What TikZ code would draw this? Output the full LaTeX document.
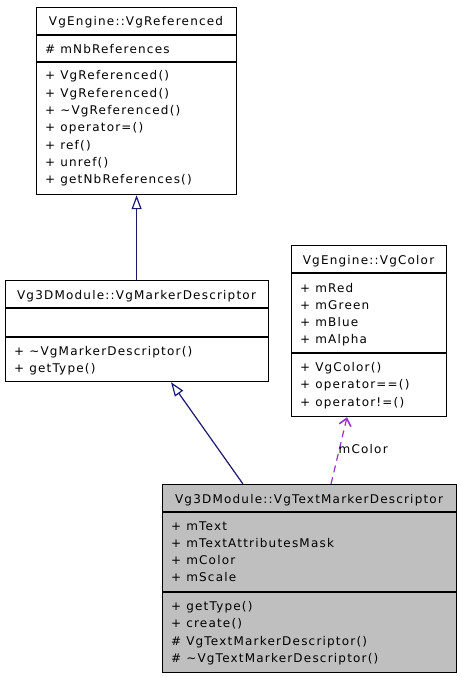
\documentclass[tikz,border=0pt]{standalone}
\usepackage{fontspec}
\setmainfont{DejaVu Sans}[LetterSpace=10]
\usetikzlibrary{arrows.meta}
\definecolor{edgeblue}{HTML}{191970}
\definecolor{edgepurple}{HTML}{9A32CD}
\definecolor{boxgray}{HTML}{BFBFBF}
\begin{document}
\begin{tikzpicture}[x=1pt,y=-1pt,
  box/.style={draw=black, line width=1.2pt, rectangle, inner sep=0pt, anchor=north west},
  sep/.style={draw=black, line width=1.2pt},
  ttl/.style={anchor=base, inner sep=0pt, font=\fontsize{12}{14}\selectfont},
  mem/.style={anchor=base west, inner sep=0pt, font=\fontsize{12}{14}\selectfont},
  inh/.style={draw=edgeblue, line width=1.2pt, -{Triangle[open, length=14pt, width=10pt]}},
  assoc/.style={draw=edgepurple, line width=1.2pt, dash pattern=on 7pt off 5pt, -{Straight Barb[length=7pt, width=12pt, line width=1.6pt]}},
  lbl/.style={anchor=base west, inner sep=0pt, font=\fontsize{12}{14}\selectfont}
]
\useasboundingbox (0,0) rectangle (461,677);

% VgEngine::VgReferenced
\node[box, minimum width=200pt, minimum height=187pt] (ref) at (36,7) {};
\draw[sep] (36,35) -- (236,35);
\draw[sep] (36,62) -- (236,62);
\node[ttl] (refT) at (136,26) {VgEngine::VgReferenced};
\node[mem] (refA1) at (45,53) {\# mNbReferences};
\node[mem] (refM1) at (45,80) {+ VgReferenced()};
\node[mem] (refM2) at (45,97.3) {+ VgReferenced()};
\node[mem] (refM3) at (45,114.6) {+ \textasciitilde VgReferenced()};
\node[mem] (refM4) at (45,131.9) {+ operator=()};
\node[mem] (refM5) at (45,149.2) {+ ref()};
\node[mem] (refM6) at (45,166.5) {+ unref()};
\node[mem] (refM7) at (45,183.8) {+ getNbReferences()};

% Vg3DModule::VgMarkerDescriptor
\node[box, minimum width=263pt, minimum height=101pt] (mk) at (5,280) {};
\draw[sep] (5,308) -- (268,308);
\draw[sep] (5,337) -- (268,337);
\node[ttl] (mkT) at (136.5,299) {Vg3DModule::VgMarkerDescriptor};
\node[mem] (mkM1) at (14,355) {+ \textasciitilde VgMarkerDescriptor()};
\node[mem] (mkM2) at (14,372.3) {+ getType()};

% VgEngine::VgColor
\node[box, minimum width=155pt, minimum height=171pt] (col) at (291,245) {};
\draw[sep] (291,273) -- (446,273);
\draw[sep] (291,353) -- (446,353);
\node[ttl] (colT) at (368.5,264) {VgEngine::VgColor};
\node[mem] (colA1) at (300,292) {+ mRed};
\node[mem] (colA2) at (300,309.3) {+ mGreen};
\node[mem] (colA3) at (300,326.6) {+ mBlue};
\node[mem] (colA4) at (300,343.9) {+ mAlpha};
\node[mem] (colM1) at (300,371.5) {+ VgColor()};
\node[mem] (colM2) at (300,388.8) {+ operator==()};
\node[mem] (colM3) at (300,406.1) {+ operator!=()};

% Vg3DModule::VgTextMarkerDescriptor
\node[box, fill=boxgray, minimum width=294pt, minimum height=188pt] (tm) at (162,484) {};
\draw[sep] (162,512) -- (456,512);
\draw[sep] (162,592) -- (456,592);
\node[ttl] (tmT) at (309,503) {Vg3DModule::VgTextMarkerDescriptor};
\node[mem] (tmA1) at (171,530) {+ mText};
\node[mem] (tmA2) at (171,547.3) {+ mTextAttributesMask};
\node[mem] (tmA3) at (171,564.6) {+ mColor};
\node[mem] (tmA4) at (171,581.9) {+ mScale};
\node[mem] (tmM1) at (171,610.5) {+ getType()};
\node[mem] (tmM2) at (171,627.8) {+ create()};
\node[mem] (tmM3) at (171,645.1) {\# VgTextMarkerDescriptor()};
\node[mem] (tmM4) at (171,662.4) {\# \textasciitilde VgTextMarkerDescriptor()};

% connectors
\draw[inh] (mk.north -| ref.south) -- (ref.south);
\coordinate (tmIn) at ([xshift=81pt]tm.north west);
\coordinate (mkIn) at ([xshift=166pt]mk.south west);
\draw[inh] (tmIn) -- (mkIn);
\coordinate (tmCol) at ([xshift=169pt]tm.north west);
\coordinate (colIn) at ([xshift=56pt]col.south west);
\draw[assoc] (tmCol) -- (colIn);
\node[lbl] (colLbl) at (338.5,453) {mColor};
\end{tikzpicture}
\end{document}
